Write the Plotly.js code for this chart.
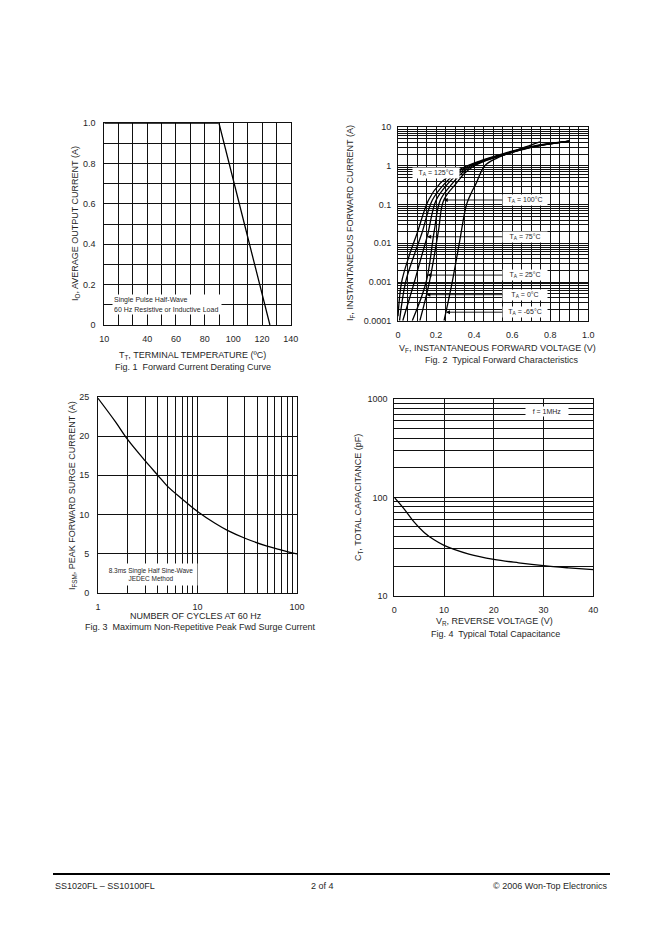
<!DOCTYPE html>
<html><head><meta charset="utf-8">
<script src="https://cdn.plot.ly/plotly-3.0.1.min.js"></script>
<style>html,body{margin:0;padding:0;background:#fff}#chart{width:662px;height:936px}</style>
</head><body><div id="chart"></div>
<script>
// ---------- Fig. 1 data ----------
const fig1Temp = [10, 90, 125.5];
const fig1Current = [1.0, 1.0, 0];
const fig1XTickVals = [10, 40, 60, 80, 100, 120, 140];
const fig1XTickText = ['10', '40', '60', '80', '100', '120', '140'];
const fig1YTickVals = [0, 0.2, 0.4, 0.6, 0.8, 1.0];
const fig1YTickText = ['0', '0.2', '0.4', '0.6', '0.8', '1.0'];

// ---------- Fig. 2 data (six temperature curves) ----------
const vfA = [0.000, 0.019, 0.060, 0.100, 0.160, 0.220, 0.290, 0.360, 0.450, 0.540, 0.660, 0.780, 0.900];
const ifA = [1.3e-4, 1e-3, 5e-3, 0.018, 0.13, 0.35, 0.65, 1.0, 1.45, 2.0, 2.9, 3.7, 4.4];
const vfB = [0.008, 0.040, 0.085, 0.125, 0.180, 0.245, 0.305, 0.370, 0.450, 0.545, 0.665, 0.780, 0.900];
const ifB = [1e-4, 1e-3, 5e-3, 0.018, 0.13, 0.35, 0.65, 1.0, 1.4, 1.95, 2.85, 3.65, 4.4];
const vfC = [0.025, 0.086, 0.120, 0.155, 0.200, 0.262, 0.320, 0.380, 0.455, 0.550, 0.670, 0.785, 0.900];
const ifC = [1e-4, 1e-3, 4e-3, 0.016, 0.13, 0.35, 0.65, 1.0, 1.4, 1.95, 2.85, 3.65, 4.4];
const vfD = [0.075, 0.148, 0.190, 0.222, 0.285, 0.335, 0.390, 0.460, 0.555, 0.675, 0.790, 0.900];
const ifD = [1e-4, 1e-3, 0.02, 0.13, 0.35, 0.65, 1.0, 1.4, 1.95, 2.85, 3.65, 4.4];
const vfE = [0.115, 0.165, 0.212, 0.240, 0.305, 0.350, 0.400, 0.465, 0.560, 0.680, 0.790, 0.900];
const ifE = [1e-4, 1e-3, 0.02, 0.13, 0.35, 0.65, 1.0, 1.4, 1.95, 2.85, 3.65, 4.4];
const vfF = [0.242, 0.285, 0.322, 0.360, 0.385, 0.410, 0.455, 0.520, 0.600, 0.670, 0.746];
const ifF = [1e-4, 1e-3, 0.01, 0.1, 0.2, 0.35, 1.0, 1.6, 2.3, 3.1, 4.2];
const fig2Labels = ['T<sub>A</sub> = 100°C', 'T<sub>A</sub> = 75°C', 'T<sub>A</sub> = 25°C', 'T<sub>A</sub> = 0°C', 'T<sub>A</sub> = -65°C'];
const fig2LabelCurrent = [0.132, 0.0148, 0.00151, 0.00047, 0.000166];
const fig2ArrowVolt = [0.240, 0.153, 0.154, 0.149, 0.252];
const fig2TopLabel = 'T<sub>A</sub> = 125°C';
const fig2XTickVals = [0, 0.2, 0.4, 0.6, 0.8, 1.0];
const fig2XTickText = ['0', '0.2', '0.4', '0.6', '0.8', '1.0'];
const fig2YTickVals = [0.0001, 0.001, 0.01, 0.1, 1, 10];
const fig2YTickText = ['0.0001', '0.001', '0.01', '0.1', '1', '10'];

// ---------- Fig. 3 data ----------
const fig3Cycles = [1, 1.5, 2, 3, 4, 5, 7, 10, 15, 20, 30, 50, 70, 100];
const fig3Ifsm = [24.8, 21.8, 19.5, 16.8, 15.0, 13.6, 12.0, 10.4, 8.9, 8.0, 7.0, 6.0, 5.5, 5.0];
const fig3XTickVals = [1, 10, 100];
const fig3XTickText = ['1', '10', '100'];
const fig3YTickVals = [0, 5, 10, 15, 20, 25];
const fig3YTickText = ['0', '5', '10', '15', '20', '25'];

// ---------- Fig. 4 data ----------
const fig4Vr = [0, 2, 4, 6, 8, 10, 15, 20, 25, 30, 35, 40];
const fig4Ct = [100, 76, 56, 44, 37, 32.5, 26.5, 23.4, 21.6, 20.2, 19.2, 18.4];
const fig4XTickVals = [0, 10, 20, 30, 40];
const fig4XTickText = ['0', '10', '20', '30', '40'];
const fig4YTickVals = [10, 100, 1000];
const fig4YTickText = ['10', '100', '1000'];

// ---------- layout helpers ----------
const W = 662, H = 936;
const PX = v => v / W;
const PY = v => 1 - v / H;
const INK = '#111';
const TXT = '#1f1f1f';
const FONT = 'Liberation Sans, Arial, sans-serif';
function logMinors(lo, hi) {
  const a = [];
  for (let e = lo; e < hi; e++) for (let m = 2; m <= 9; m++) a.push(m * Math.pow(10, e));
  return a;
}
function axisBase(extra) {
  return Object.assign({
    showline: true, mirror: true, linecolor: INK, linewidth: 1,
    showgrid: true, gridcolor: INK, gridwidth: 1, zeroline: false,
    ticks: '', tickmode: 'array', fixedrange: true,
    tickfont: {family: FONT, size: 9, color: TXT}
  }, extra);
}
const curveLine = {color: '#000', width: 1.3};

const traces = [
  {x: fig1Temp, y: fig1Current, xaxis: 'x', yaxis: 'y', mode: 'lines', line: curveLine, showlegend: false, hoverinfo: 'skip'},
  {x: vfA, y: ifA, xaxis: 'x2', yaxis: 'y2', mode: 'lines', line: Object.assign({shape: 'spline'}, curveLine), showlegend: false},
  {x: vfB, y: ifB, xaxis: 'x2', yaxis: 'y2', mode: 'lines', line: Object.assign({shape: 'spline'}, curveLine), showlegend: false},
  {x: vfC, y: ifC, xaxis: 'x2', yaxis: 'y2', mode: 'lines', line: Object.assign({shape: 'spline'}, curveLine), showlegend: false},
  {x: vfD, y: ifD, xaxis: 'x2', yaxis: 'y2', mode: 'lines', line: Object.assign({shape: 'spline'}, curveLine), showlegend: false},
  {x: vfE, y: ifE, xaxis: 'x2', yaxis: 'y2', mode: 'lines', line: Object.assign({shape: 'spline'}, curveLine), showlegend: false},
  {x: vfF, y: ifF, xaxis: 'x2', yaxis: 'y2', mode: 'lines', line: Object.assign({shape: 'spline'}, curveLine), showlegend: false},
  {x: fig3Cycles, y: fig3Ifsm, xaxis: 'x3', yaxis: 'y3', mode: 'lines', line: Object.assign({shape: 'spline'}, curveLine), showlegend: false},
  {x: fig4Vr, y: fig4Ct, xaxis: 'x4', yaxis: 'y4', mode: 'lines', line: Object.assign({shape: 'spline'}, curveLine), showlegend: false}
];

const txt = (s, x, y, size, extra) => Object.assign({
  text: s, xref: 'paper', yref: 'paper', x: PX(x), y: PY(y), showarrow: false,
  xanchor: 'center', yanchor: 'middle', font: {family: FONT, size: size, color: TXT}
}, extra || {});

const annotations = [
  // Fig 1
  txt('I<sub>O</sub>, AVERAGE OUTPUT CURRENT (A)', 75, 224, 9, {textangle: -90}),
  txt('T<sub>T</sub>, TERMINAL TEMPERATURE (ºC)', 192, 355, 9),
  txt('Fig. 1  Forward Current Derating Curve', 193, 367, 9),
  txt('Single Pulse Half-Wave<br>60 Hz Resistive or Inductive Load', 166.5, 305, 7, {bgcolor: '#fff', align: 'left', width: 106, height: 17}),
  // Fig 2
  txt('I<sub>F</sub>, INSTANTANEOUS FORWARD CURRENT (A)', 350, 223, 9, {textangle: -90}),
  txt('V<sub>F</sub>, INSTANTANEOUS FORWARD VOLTAGE (V)', 498, 348.5, 9),
  txt('Fig. 2  Typical Forward Characteristics', 501, 360, 9),
  {text: fig2TopLabel, xref: 'x2', yref: 'y2', x: 0.2, y: Math.log10(0.64), showarrow: false,
   bgcolor: '#fff', font: {family: FONT, size: 7, color: TXT}, width: 44},
  // Fig 3
  txt('I<sub>FSM</sub>, PEAK FORWARD SURGE CURRENT (A)', 72, 496, 9, {textangle: -90}),
  txt('NUMBER OF CYCLES AT 60 Hz', 196, 615.5, 9),
  txt('Fig. 3  Maximum Non-Repetitive Peak Fwd Surge Current', 200, 627, 9),
  txt('8.3ms Single Half Sine-Wave<br>JEDEC Method', 151, 574.5, 6.5, {bgcolor: '#fff', width: 90, height: 19}),
  // Fig 4
  txt('C<sub>T</sub>, TOTAL CAPACITANCE (pF)', 358, 498, 9, {textangle: -90}),
  txt('V<sub>R</sub>, REVERSE VOLTAGE (V)', 494, 621.5, 9),
  txt('Fig. 4  Typical Total Capacitance', 495, 634, 9),
  txt('f = 1MHz', 547, 411.5, 7, {bgcolor: '#fff', width: 40}),
  // Footer
  txt('SS1020FL – SS10100FL', 53, 886, 9, {xanchor: 'left'}),
  txt('2 of 4', 322, 886, 9),
  txt('© 2006 Won-Top Electronics', 610, 886, 9, {xanchor: 'right'})
];

fig2Labels.forEach((lab, i) => {
  const ly = Math.log10(fig2LabelCurrent[i]);
  annotations.push({
    text: lab, xref: 'x2', yref: 'y2', axref: 'x2', ayref: 'y2',
    x: fig2ArrowVolt[i], y: ly, ax: 0.667, ay: ly,
    showarrow: true, arrowhead: 2, arrowsize: 0.9, arrowwidth: 0.9, arrowcolor: '#000', standoff: 0,
    bgcolor: '#fff', font: {family: FONT, size: 7, color: TXT}, width: 42
  });
});

const layout = {
  width: W, height: H, margin: {l: 0, r: 0, t: 0, b: 0},
  paper_bgcolor: '#fff', plot_bgcolor: '#fff', showlegend: false,
  xaxis: axisBase({domain: [PX(104.3), PX(290.7)], anchor: 'y', range: [10, 140],
    tickvals: fig1XTickVals, ticktext: fig1XTickText, ticklabelstandoff: 5,
    minor: {tickmode: 'linear', tick0: 10, dtick: 10, showgrid: true, gridcolor: INK, gridwidth: 1}}),
  yaxis: axisBase({domain: [PY(325), PY(123.3)], anchor: 'x', range: [0, 1],
    tickvals: fig1YTickVals, ticktext: fig1YTickText, ticklabelstandoff: 6,
    minor: {tickmode: 'linear', tick0: 0, dtick: 0.1, showgrid: true, gridcolor: INK, gridwidth: 1}}),
  xaxis2: axisBase({domain: [PX(398), PX(588.3)], anchor: 'y2', range: [0, 1],
    tickvals: fig2XTickVals, ticktext: fig2XTickText, ticklabelstandoff: 5,
    minor: {tickmode: 'linear', tick0: 0, dtick: 0.05, showgrid: true, gridcolor: INK, gridwidth: 1}}),
  yaxis2: axisBase({domain: [PY(320.7), PY(127.3)], anchor: 'x2', type: 'log', range: [-4, 1],
    tickvals: fig2YTickVals, ticktext: fig2YTickText, ticklabelstandoff: 4,
    minor: {tickmode: 'array', tickvals: logMinors(-4, 1), showgrid: true, gridcolor: INK, gridwidth: 1}}),
  xaxis3: axisBase({domain: [PX(98), PX(297)], anchor: 'y3', type: 'log', range: [0, 2],
    tickvals: fig3XTickVals, ticktext: fig3XTickText, ticklabelstandoff: 5,
    minor: {tickmode: 'array', tickvals: logMinors(0, 2), showgrid: true, gridcolor: INK, gridwidth: 1}}),
  yaxis3: axisBase({domain: [PY(593.3), PY(396.7)], anchor: 'x3', range: [0, 25],
    tickvals: fig3YTickVals, ticktext: fig3YTickText, ticklabelstandoff: 6}),
  xaxis4: axisBase({domain: [PX(394.3), PX(593.3)], anchor: 'y4', range: [0, 40],
    tickvals: fig4XTickVals, ticktext: fig4XTickText, ticklabelstandoff: 5}),
  yaxis4: axisBase({domain: [PY(595.7), PY(399)], anchor: 'x4', type: 'log', range: [1, 3],
    tickvals: fig4YTickVals, ticktext: fig4YTickText, ticklabelstandoff: 4,
    minor: {tickmode: 'array', tickvals: logMinors(1, 3), showgrid: true, gridcolor: INK, gridwidth: 1}}),
  annotations: annotations,
  shapes: [
    {type: 'line', xref: 'paper', yref: 'paper', x0: PX(53), x1: PX(610), y0: PY(874), y1: PY(874),
     line: {color: '#000', width: 2}}
  ]
};

Plotly.newPlot('chart', traces, layout, {staticPlot: true, displayModeBar: false});
</script>
</body></html>
